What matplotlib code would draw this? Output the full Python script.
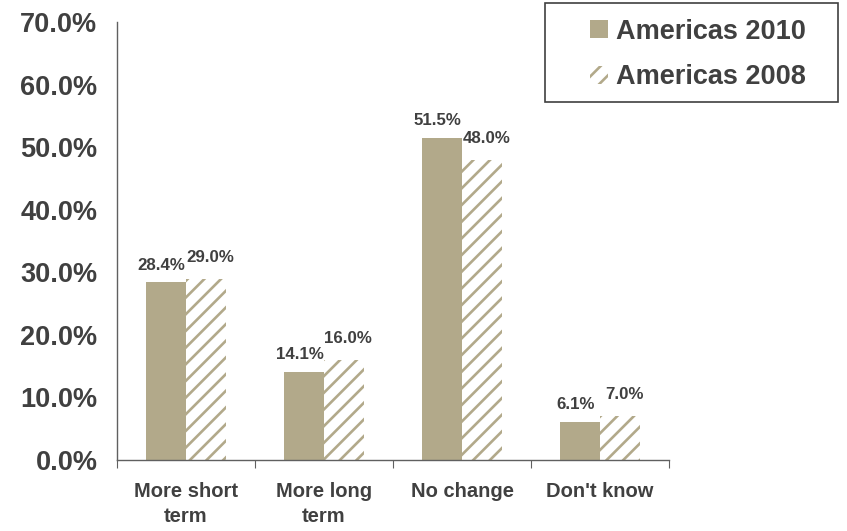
import matplotlib
matplotlib.use("Agg")
import matplotlib.pyplot as plt
from matplotlib.patches import Rectangle
import numpy as np

categories = ["More short\nterm", "More long\nterm", "No change", "Don't know"]
americas_2010 = [28.4, 14.1, 51.5, 6.1]
americas_2008 = [29.0, 16.0, 48.0, 7.0]
yticks = [0, 10, 20, 30, 40, 50, 60, 70]

tan = "#B2A98A"
txt = "#404040"

plt.rcParams["font.family"] = ["Liberation Sans", "DejaVu Sans"]
plt.rcParams["font.weight"] = "bold"
plt.rcParams["hatch.linewidth"] = 1.9

fig = plt.figure(figsize=(8.47, 5.31), dpi=100)
ax = fig.add_axes([0.138, 0.134, 0.652, 0.824])

x = np.arange(len(categories))
w = 0.29
ax.bar(x - w / 2, americas_2010, w, color=tan, linewidth=0, label="Americas 2010")
ax.bar(x + w / 2, americas_2008, w, facecolor="white", edgecolor=tan, linewidth=0,
       hatch="//", label="Americas 2008")

# data labels
for xi, v in zip(x - w / 2, americas_2010):
    ax.annotate(f"{v:.1f}%", (xi, v), xytext=(-3, 7), textcoords="offset points",
                ha="center", va="bottom", fontsize=12.2, fontweight="bold", color=txt)
for xi, v in zip(x + w / 2, americas_2008):
    ax.annotate(f"{v:.1f}%", (xi, v), xytext=(3, 10), textcoords="offset points",
                ha="center", va="bottom", fontsize=12.2, fontweight="bold", color=txt)

ax.set_xlim(-0.5, len(categories) - 0.5)
ax.set_ylim(0, 70)
ax.set_yticks(yticks)
ax.set_yticklabels([f"{t:.1f}%" for t in yticks], fontsize=19.5, fontweight="bold", color=txt)
ax.tick_params(axis="y", length=0, pad=14)

ax.set_xticks(np.arange(len(categories) + 1) - 0.5)
ax.set_xticklabels([])
ax.set_xticks(x, minor=True)
ax.set_xticklabels(categories, minor=True, fontsize=14.5, fontweight="bold", color=txt,
                   linespacing=1.4)
ax.tick_params(axis="x", which="major", length=6, direction="out", color="#606060")
ax.tick_params(axis="x", which="minor", length=0, pad=16)

for s in ["top", "right"]:
    ax.spines[s].set_visible(False)
for s in ["left", "bottom"]:
    ax.spines[s].set_color("#606060")
    ax.spines[s].set_linewidth(1)

# legend box drawn separately, entries placed inside
fig.patches.append(Rectangle((545 / 847, 1 - 102 / 531), 293 / 847, 99 / 531,
                             transform=fig.transFigure, facecolor="white",
                             edgecolor="#404040", linewidth=1.2))
leg = fig.legend(loc="center left", bbox_to_anchor=(590 / 847, 1 - 54.5 / 531), fontsize=19.5,
                 frameon=False, handlelength=0.65, handleheight=0.65, handletextpad=0.3,
                 borderpad=0, labelspacing=0.72, borderaxespad=0)
for t in leg.get_texts():
    t.set_color(txt)

fig.savefig("out.png", dpi=100)
